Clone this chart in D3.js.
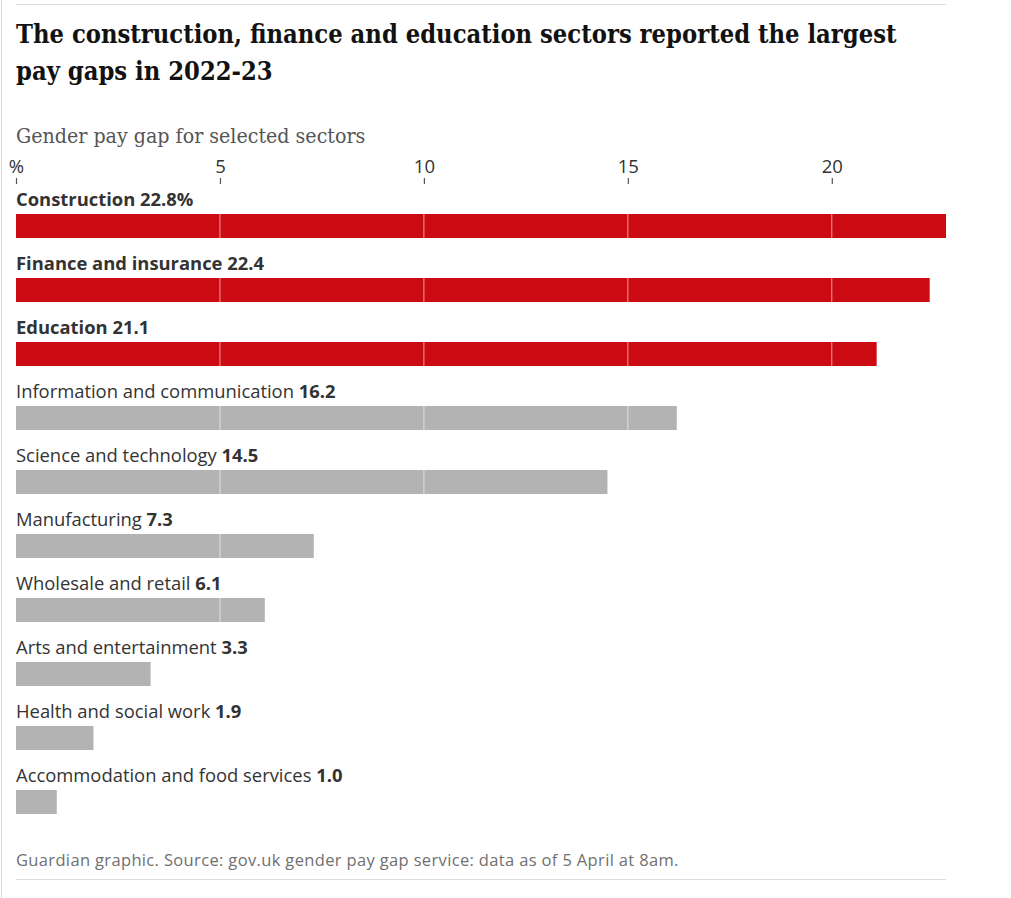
<!DOCTYPE html>
<html><head><meta charset="utf-8">
<script src="https://cdn.jsdelivr.net/npm/d3@7"></script>
<style>
body{margin:0;background:#fff;}
svg{display:block;}
</style></head>
<body>
<svg id="chart" width="1011" height="898"></svg>
<script>
const categories = ["Construction","Finance and insurance","Education","Information and communication","Science and technology","Manufacturing","Wholesale and retail","Arts and entertainment","Health and social work","Accommodation and food services"];
const values = [22.8,22.4,21.1,16.2,14.5,7.3,6.1,3.3,1.9,1.0];
const highlighted = [true,true,true,false,false,false,false,false,false,false];
const valueLabels = ["22.8%","22.4","21.1","16.2","14.5","7.3","6.1","3.3","1.9","1.0"];
const tickValues = [0,5,10,15,20];
const tickLabels = ["%","5","10","15","20"];

const svg = d3.select("#chart");
const sans = "'Open Sans', Roboto, sans-serif";
const serif = "'DejaVu Serif Condensed', 'DejaVu Serif', serif";

// frame lines
svg.append("line").attr("x1",1.5).attr("x2",1.5).attr("y1",0).attr("y2",898).attr("stroke","#dcdcdc").attr("stroke-width",1);
svg.append("line").attr("x1",16).attr("x2",946).attr("y1",4.5).attr("y2",4.5).attr("stroke","#dcdcdc");
svg.append("line").attr("x1",16).attr("x2",946).attr("y1",879.5).attr("y2",879.5).attr("stroke","#dcdcdc");

// title
const title = svg.append("text").attr("font-family",serif).attr("font-weight","bold").attr("font-size",25.3).attr("fill","#121212");
title.append("tspan").attr("x",16).attr("y",43).text("The construction, finance and education sectors reported the largest");
title.append("tspan").attr("x",16).attr("y",80).text("pay gaps in 2022-23");

svg.append("text").attr("x",16).attr("y",143).attr("font-family",serif).attr("font-size",21.2).attr("fill","#555").text("Gender pay gap for selected sectors");

const x = d3.scaleLinear().domain([0,22.8]).range([16,946]);
const y = d3.scaleBand().domain(categories).range([182,822]).paddingInner(0);

// axis
const axis = d3.axisTop(x).tickValues(tickValues).tickFormat((d,i)=>tickLabels[i]).tickSize(6).tickSizeOuter(0);
const ax = svg.append("g").attr("transform","translate(0,184)").call(axis);
ax.select(".domain").remove();
ax.selectAll(".tick line").attr("stroke","#555").attr("stroke-width",1.2);
ax.selectAll(".tick text").attr("font-family",sans).attr("font-size",18.5).attr("fill","#333").attr("dy","0").attr("y",-11);

// bars
const rows = svg.append("g").selectAll("g").data(categories).join("g")
  .attr("transform",d=>`translate(0,${y(d)})`);
rows.append("rect").attr("x",x(0)).attr("y",32).attr("height",24)
  .attr("width",(d,i)=>x(values[i])-x(0))
  .attr("fill",(d,i)=>highlighted[i]?"#cc0a11":"#b3b3b3");

// grid lines over bars
rows.each(function(d,i){
  const g = d3.select(this);
  tickValues.filter(t=>t>0 && t<values[i]).forEach(t=>{
    g.append("line").attr("x1",x(t)).attr("x2",x(t)).attr("y1",32).attr("y2",56)
      .attr("stroke","#fff").attr("stroke-opacity",0.6).attr("stroke-width",1);
  });
});

// labels
const lab = rows.append("text").attr("x",16).attr("y",24).attr("font-family",sans).attr("font-size",18.4).attr("fill","#333");
lab.append("tspan").attr("font-weight",(d,i)=>highlighted[i]?"bold":"normal").text(d=>d+" ");
lab.append("tspan").attr("font-weight","bold").text((d,i)=>valueLabels[i]);

svg.append("text").attr("x",16).attr("y",866).attr("font-family",sans).attr("font-size",16.5).attr("letter-spacing",0.35).attr("fill","#707070")
  .text("Guardian graphic. Source: gov.uk gender pay gap service: data as of 5 April at 8am.");
</script>
</body></html>
